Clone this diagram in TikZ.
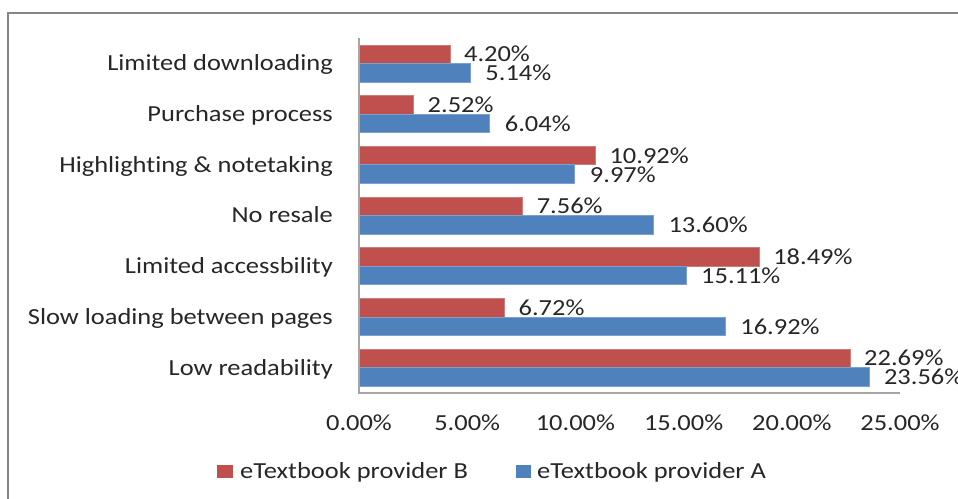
\documentclass[tikz,border=0pt]{standalone}
\usepackage{fontspec}
\setmainfont[FakeStretch=1.15,Ligatures=NoCommon]{Carlito}
\definecolor{barA}{HTML}{4F81BD}
\definecolor{barB}{HTML}{C0504D}
\definecolor{framec}{HTML}{868686}
\definecolor{axisc}{HTML}{A6A6A6}
\definecolor{txt}{HTML}{262626}
\tikzset{
  barBstyle/.style={fill=barB, draw=barB!75!white, line width=0.7pt},
  barAstyle/.style={fill=barA, draw=barA!75!white, line width=0.7pt},
  catlabel/.style={anchor=base east, inner sep=0pt, text=txt},
  vallabel/.style={anchor=base west, inner sep=0pt, text=txt},
  ticklabel/.style={anchor=base, inner sep=0pt, text=txt},
  legtext/.style={anchor=base west, inner sep=0pt, text=txt},
}
\begin{document}
\begin{tikzpicture}[x=1pt,y=-1pt,font=\fontsize{23}{26}\selectfont]
\useasboundingbox (0,0) rectangle (958,498);
% outer frame
\draw[framec, line width=2pt] (8,499) -- (8,13) -- (959,13);
% bars and labels
\foreach \i/\name/\b/\a in {0/Limited downloading/4.20/5.14,
  1/Purchase process/2.52/6.04,
  2/Highlighting \& notetaking/10.92/9.97,
  3/No resale/7.56/13.60,
  4/Limited accessbility/18.49/15.11,
  5/Slow loading between pages/6.72/16.92,
  6/Low readability/22.69/23.56}{
  \pgfmathsetmacro{\c}{38+50.71*(\i+0.5)}
  \pgfmathsetmacro{\xb}{359+\b*21.64}
  \pgfmathsetmacro{\xa}{359+\a*21.64}
  \path[barBstyle] (359,\c-18.5) rectangle (\xb,\c);
  \path[barAstyle] (359,\c) rectangle (\xa,\c+18.5);
  \node[catlabel] (cat\i) at (333,\c+7.5) {\name};
  \node[vallabel] (vb\i) at (\xb+14,\c-9.25+7.5) {\b\%};
  \node[vallabel] (va\i) at (\xa+15,\c+9.25+8) {\a\%};
}
% axes
\coordinate (o) at (359,393);
\coordinate (ytop) at (359,38);
\coordinate (xend) at (900,393);
\draw[axisc, line width=1.2pt] (ytop) -- (o) -- (xend);
% tick labels
\foreach \k/\t in {0/0.00,1/5.00,2/10.00,3/15.00,4/20.00,5/25.00}{
  \node[ticklabel] (tick\k) at ({359+\k*5*21.64},430) {\t\%};
}
% legend
\fill[barB] (217,465) rectangle (233,478);
\node[legtext] (legB) at (240,478) {eTextbook provider B};
\fill[barA] (516,465) rectangle (531,478);
\node[legtext] (legA) at (537,478) {eTextbook provider A};
\end{tikzpicture}
\end{document}
